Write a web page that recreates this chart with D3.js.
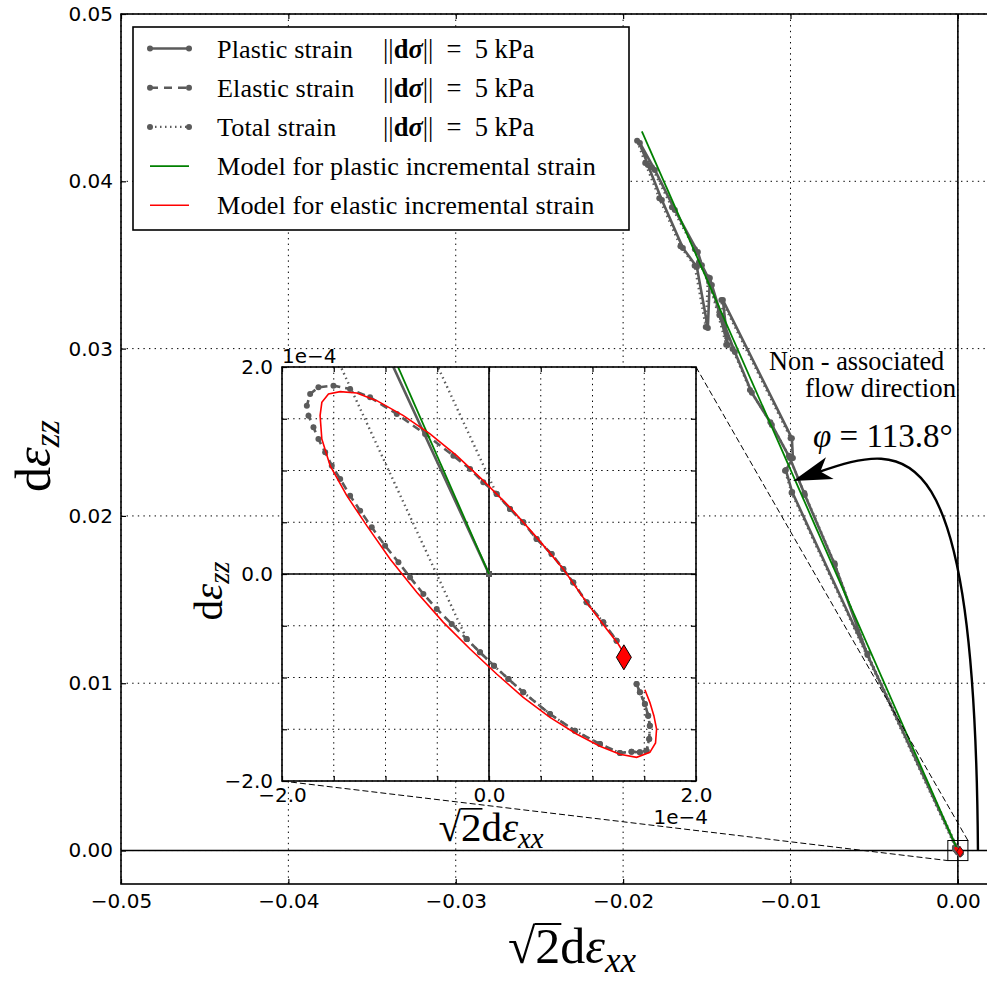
<!DOCTYPE html>
<html><head><meta charset="utf-8">
<script src="https://cdn.jsdelivr.net/npm/d3@7"></script>
<style>body{margin:0;background:#fff}svg{display:block}text{white-space:pre}</style>
</head><body>
<svg id="c" width="987" height="981"></svg>
<script>
// ---------------- data ----------------
// elastic strain response (units 1e-4)
const elasticX = [1.426,1.458,1.506,1.538,1.554,1.548,1.522,1.458,1.377,1.265,1.072,0.830,0.589,0.331,0.187,0.048,-0.087,-0.216,-0.360,-0.505,-0.634,-0.763,-0.875,-1.004,-1.133,-1.245,-1.342,-1.438,-1.519,-1.583,-1.648,-1.696,-1.744,-1.760,-1.728,-1.648,-1.503,-1.342,-1.149,-0.891,-0.618,-0.344,-0.183,-0.055,0.074,0.203,0.331,0.460,0.605,0.718,0.814,0.943,1.104,1.233];
const elasticY = [-1.063,-1.143,-1.256,-1.369,-1.465,-1.594,-1.707,-1.723,-1.717,-1.729,-1.643,-1.514,-1.353,-1.143,-1.014,-0.886,-0.757,-0.628,-0.483,-0.338,-0.193,-0.032,0.113,0.274,0.451,0.612,0.757,0.918,1.047,1.176,1.304,1.417,1.530,1.626,1.739,1.804,1.820,1.787,1.707,1.546,1.353,1.143,1.014,0.886,0.773,0.628,0.499,0.338,0.193,0.048,-0.081,-0.274,-0.467,-0.644];
// plastic strain response (units 1e-3)
const plasticX = [0,0,0,0,0,0,0,0,0,0,0,0,0,0,0,0,0,0,-9.900,-10.277,-9.858,-9.918,-14.041,-13.742,-14.818,-14.937,-15.594,-16.431,-17.686,-18.522,-19.000,-18.104,-16.909,-15.535,-15.295,-14.698,-14.101,-13.324,-12.308,-11.113,-10.037,-9.141,-7.349,-5.400,0,0,0,0,0,0,0,0,0,0];
const plasticY = [0,0,0,0,0,0,0,0,0,0,0,0,0,0,0,0,0,0,21.43,22.74,23.46,24.65,32.90,30.21,34.22,31.23,34.88,36.02,38.88,40.97,42.29,40.68,38.29,35.77,34.99,33.80,31.83,29.80,27.36,25.44,23.46,21.25,17.07,11.69,0,0,0,0,0,0,0,0,0,0];
// total strain response (units 1e-3)
const totalX = [0.1426,0.1458,0.1506,0.1538,0.1554,0.1548,0.1522,0.1458,0.1377,0.1265,0.1072,0.0830,0.0589,0.0331,0.0187,0.0048,-0.0087,-0.0216,-9.936,-10.328,-9.921,-9.994,-14.129,-13.842,-14.931,-15.062,-15.728,-16.575,-17.838,-18.680,-19.165,-18.274,-17.083,-15.711,-15.468,-14.863,-14.251,-13.458,-12.423,-11.202,-10.099,-9.175,-7.367,-5.406,0.0074,0.0203,0.0331,0.0460,0.0605,0.0718,0.0814,0.0943,0.1104,0.1233];
const totalY = [-0.1063,-0.1143,-0.1256,-0.1369,-0.1465,-0.1594,-0.1707,-0.1723,-0.1717,-0.1729,-0.1643,-0.1514,-0.1353,-0.1143,-0.1014,-0.0886,-0.0757,-0.0628,21.382,22.706,23.441,24.647,32.911,30.237,34.265,31.291,34.956,36.112,38.985,41.088,42.420,40.822,38.443,35.933,35.164,33.980,32.012,29.979,27.531,25.595,23.595,21.364,17.171,11.779,0.0773,0.0628,0.0499,0.0338,0.0193,0.0048,-0.0081,-0.0274,-0.0467,-0.0644];
// model for plastic incremental strain (units 1e-3)
const modelPlasticX = [0, -18.88];
const modelPlasticY = [0, 42.98];
// model for elastic incremental strain (units 1e-4)
const modelElasticX = [1.506,1.554,1.593,1.619,1.609,1.554,1.426,1.265,1.072,0.846,0.589,0.331,0.074,-0.183,-0.441,-0.698,-0.956,-1.181,-1.374,-1.535,-1.615,-1.632,-1.615,-1.551,-1.438,-1.278,-1.084,-0.827,-0.570,-0.312,-0.055,0.203,0.460,0.718,0.943,1.136,1.249,1.345];
const modelElasticY = [-1.118,-1.240,-1.369,-1.498,-1.633,-1.723,-1.771,-1.742,-1.665,-1.546,-1.385,-1.192,-0.966,-0.725,-0.467,-0.177,0.145,0.467,0.757,1.047,1.304,1.530,1.659,1.739,1.762,1.749,1.675,1.530,1.353,1.143,0.902,0.644,0.354,0.048,-0.274,-0.531,-0.676,-0.837];
const startPoint = [1.303, -0.805]; // units 1e-4
// ticks
const mainXTicks = [-0.05,-0.04,-0.03,-0.02,-0.01,0.00];
const mainYTicks = [0.00,0.01,0.02,0.03,0.04,0.05];
const insetTicks = [-2,-1.5,-1,-0.5,0,0.5,1,1.5,2]; // units 1e-4
const insetLabelled = [-2,0,2];
// annotation anchors (data units, main axes)
const arrowStart = [0.0012, 0.0];
const arrowC1 = [0.00102, 0.02513];
const arrowC2 = [-0.00287, 0.02454];
const arrowTip = [-0.00985, 0.02208];
const zoomBox = 0.0006;

const U3 = 1e-3, U4 = 1e-4;
const GRAY = "#5b5b5b", GREEN = "#008000", RED = "#ff0000";
const SERIF = "'Liberation Serif', 'DejaVu Serif', serif";
const SANS = "'DejaVu Sans', sans-serif";

const svg = d3.select("#c");
const defs = svg.append("defs");

// ---------------- main axes ----------------
const M = {l:121, r:988, t:14, b:884};
const x = d3.scaleLinear().domain([-0.05, 0.0018]).range([M.l, M.r]);
const y = d3.scaleLinear().domain([-0.002, 0.05]).range([M.b, M.t]);

defs.append("clipPath").attr("id","clipMain").append("rect")
  .attr("x",M.l).attr("y",M.t).attr("width",M.r-M.l).attr("height",M.b-M.t);

const gMain = svg.append("g");
gMain.selectAll(".gx").data(mainXTicks).join("line")
  .attr("x1",d=>x(d)).attr("x2",d=>x(d)).attr("y1",M.t).attr("y2",M.b)
  .attr("stroke","#000").attr("stroke-width",1).attr("stroke-dasharray","1.4,4.2");
gMain.selectAll(".gy").data(mainYTicks).join("line")
  .attr("y1",d=>y(d)).attr("y2",d=>y(d)).attr("x1",M.l).attr("x2",M.r)
  .attr("stroke","#000").attr("stroke-width",1).attr("stroke-dasharray","1.4,4.2");
gMain.append("line").attr("x1",x(0)).attr("x2",x(0)).attr("y1",M.t).attr("y2",M.b)
  .attr("stroke","#000").attr("stroke-width",1.6);
gMain.append("line").attr("y1",y(0)).attr("y2",y(0)).attr("x1",M.l).attr("x2",M.r)
  .attr("stroke","#000").attr("stroke-width",1.6);

function series(X, Y, ux, uy){ return X.map((v,i)=>[v*ux, Y[i]*uy]); }
const plastic = series(plasticX, plasticY, U3, U3);
const elastic = series(elasticX, elasticY, U4, U4);
const total = series(totalX, totalY, U3, U3);
const modelP = series(modelPlasticX, modelPlasticY, U3, U3);
const modelE = series(modelElasticX, modelElasticY, U4, U4);

function drawData(g, sx, sy, clipId, diamondScale){
  const gg = g.append("g").attr("clip-path",`url(#${clipId})`);
  const line = d3.line().x(d=>sx(d[0])).y(d=>sy(d[1]));
  const styles = [
    {d:plastic, dash:null, w:2.6},
    {d:elastic, dash:"8,5", w:2.6},
    {d:total, dash:"1.5,3.5", w:2.4}
  ];
  styles.forEach(s=>{
    gg.append("path").attr("d",line(s.d)).attr("fill","none").attr("stroke",GRAY)
      .attr("stroke-width",s.w).attr("stroke-dasharray",s.dash);
    gg.append("g").selectAll("circle").data(s.d).join("circle")
      .attr("cx",d=>sx(d[0])).attr("cy",d=>sy(d[1])).attr("r",3).attr("fill",GRAY);
  });
  gg.append("path").attr("d",line(modelP)).attr("fill","none").attr("stroke",GREEN).attr("stroke-width",1.8);
  gg.append("path").attr("d",line(modelE)).attr("fill","none").attr("stroke",RED).attr("stroke-width",1.6);
  const px = sx(startPoint[0]*U4), py = sy(startPoint[1]*U4);
  const hw = 7.5*diamondScale, hh = 12.5*diamondScale;
  gg.append("path").attr("d",`M${px},${py-hh}L${px+hw},${py}L${px},${py+hh}L${px-hw},${py}Z`)
    .attr("fill",RED).attr("stroke","#000").attr("stroke-width",diamondScale>0.6?1:0.5);
}
drawData(gMain, x, y, "clipMain", 0.45);

function fmtAxis(g, size, fam){ g.select(".domain").remove(); g.attr("font-size",size).attr("font-family",fam);
  g.selectAll(".tick line").attr("stroke","#000").attr("stroke-width",1.2); g.selectAll("text").attr("fill","#000"); }
svg.append("g").attr("transform",`translate(0,${M.b})`)
  .call(d3.axisBottom(x).tickValues(mainXTicks).tickSize(-5).tickPadding(10).tickFormat(d3.format(".2f")))
  .call(g=>fmtAxis(g,20,SANS));
svg.append("g").attr("transform",`translate(0,${M.t})`)
  .call(d3.axisTop(x).tickValues(mainXTicks).tickSize(-5).tickFormat(""))
  .call(g=>fmtAxis(g,20,SANS));
svg.append("g").attr("transform",`translate(${M.l},0)`)
  .call(d3.axisLeft(y).tickValues(mainYTicks).tickSize(-5).tickPadding(8).tickFormat(d3.format(".2f")))
  .call(g=>fmtAxis(g,20,SANS));
svg.append("rect").attr("x",M.l).attr("y",M.t).attr("width",M.r-M.l).attr("height",M.b-M.t)
  .attr("fill","none").attr("stroke","#000").attr("stroke-width",1.6);

const measureCtx = document.createElement("canvas").getContext("2d");
function mathLabel(g, size, kind){
  const t = g.append("text").attr("font-family",SERIF).attr("font-size",size).attr("fill","#000")
    .attr("text-anchor","middle");
  if(kind==="xx"){
    t.append("tspan").text("\u221A");
    t.append("tspan").text("2");
  }
  t.append("tspan").text("d");
  t.append("tspan").attr("font-style","italic").text("\u03B5");
  t.append("tspan").attr("font-style","italic").attr("font-size","70%").attr("dy","0.25em").text(kind);
  if(kind==="xx"){
    // vinculum of the square root, joined to the radical sign
    measureCtx.font = `${size}px 'Liberation Serif'`;
    const m = measureCtx.measureText("\u221A");
    const node = t.node();
    const s0 = node.getStartPositionOfChar(0), e1 = node.getEndPositionOfChar(1);
    const sw = Math.max(1.2, size*0.04);
    const yb = s0.y - m.actualBoundingBoxAscent + sw/2;
    g.append("line").attr("x1", s0.x + m.actualBoundingBoxRight - sw*0.6).attr("x2", e1.x + 1)
      .attr("y1", yb).attr("y2", yb).attr("stroke","#000").attr("stroke-width",sw);
  }
  return t;
}
mathLabel(svg.append("g").attr("transform","translate(572,963)"), 50, "xx");
mathLabel(svg.append("g").attr("transform","translate(50,456) rotate(-90)"), 50, "zz");

// ---------------- legend ----------------
const L = {x:133, y:27, w:496, h:203};
const gL = svg.append("g");
gL.append("rect").attr("x",L.x).attr("y",L.y).attr("width",L.w).attr("height",L.h)
  .attr("fill","#fff").attr("stroke","#000").attr("stroke-width",1.6);
const legendItems = [
  {label:"Plastic strain", formula:true, color:GRAY, dash:null, marker:true, w:2.6},
  {label:"Elastic strain", formula:true, color:GRAY, dash:"8,6", marker:true, w:2.6},
  {label:"Total strain", formula:true, color:GRAY, dash:"1.5,3.5", marker:true, w:2.4},
  {label:"Model for plastic incremental strain", formula:false, color:GREEN, dash:null, marker:false, w:1.6},
  {label:"Model for elastic incremental strain", formula:false, color:RED, dash:null, marker:false, w:1.6}
];
legendItems.forEach((it,i)=>{
  const cy = 48.5 + i*39.2;
  gL.append("line").attr("x1",150).attr("x2",189).attr("y1",cy).attr("y2",cy)
    .attr("stroke",it.color).attr("stroke-width",it.w).attr("stroke-dasharray",it.dash);
  if(it.marker){
    [150,189].forEach(mx=>gL.append("circle").attr("cx",mx).attr("cy",cy).attr("r",3).attr("fill",it.color));
  }
  gL.append("text").attr("x",217).attr("y",cy+9).attr("font-family",SERIF).attr("font-size",26.2)
    .attr("letter-spacing",0.1).text(it.label);
  if(it.formula){
    const t = gL.append("text").attr("x",383).attr("y",cy+9).attr("font-family",SERIF).attr("font-size",26.5);
    t.append("tspan").text("||");
    t.append("tspan").attr("font-weight","bold").text("d");
    t.append("tspan").attr("font-weight","bold").attr("font-style","italic").text("\u03C3");
    t.append("tspan").text("||\u2002=\u20025 kPa");
  }
});

// ---------------- zoom box + connectors ----------------
const I = {l:282, r:696, t:367, b:781};
svg.append("rect").attr("x",x(-zoomBox)).attr("y",y(zoomBox)).attr("width",x(zoomBox)-x(-zoomBox))
  .attr("height",y(-zoomBox)-y(zoomBox)).attr("fill","none").attr("stroke","#000").attr("stroke-width",1);
svg.append("line").attr("x1",I.r).attr("y1",I.t).attr("x2",x(zoomBox)).attr("y2",y(zoomBox))
  .attr("stroke","#000").attr("stroke-width",1).attr("stroke-dasharray","6,3");
svg.append("line").attr("x1",I.l).attr("y1",I.b).attr("x2",x(-zoomBox)).attr("y2",y(-zoomBox))
  .attr("stroke","#000").attr("stroke-width",1).attr("stroke-dasharray","6,3");

// ---------------- inset ----------------
const xi = d3.scaleLinear().domain([-2e-4, 2e-4]).range([I.l, I.r]);
const yi = d3.scaleLinear().domain([-2e-4, 2e-4]).range([I.b, I.t]);
defs.append("clipPath").attr("id","clipInset").append("rect")
  .attr("x",I.l).attr("y",I.t).attr("width",I.r-I.l).attr("height",I.b-I.t);
const gI = svg.append("g");
gI.append("rect").attr("x",I.l).attr("y",I.t).attr("width",I.r-I.l).attr("height",I.b-I.t).attr("fill","#fff");
gI.selectAll(".gix").data(insetTicks).join("line")
  .attr("x1",d=>xi(d*U4)).attr("x2",d=>xi(d*U4)).attr("y1",I.t).attr("y2",I.b)
  .attr("stroke","#000").attr("stroke-width",1).attr("stroke-dasharray","1.4,4.2");
gI.selectAll(".giy").data(insetTicks).join("line")
  .attr("y1",d=>yi(d*U4)).attr("y2",d=>yi(d*U4)).attr("x1",I.l).attr("x2",I.r)
  .attr("stroke","#000").attr("stroke-width",1).attr("stroke-dasharray","1.4,4.2");
gI.append("line").attr("x1",xi(0)).attr("x2",xi(0)).attr("y1",I.t).attr("y2",I.b).attr("stroke","#000").attr("stroke-width",1.6);
gI.append("line").attr("y1",yi(0)).attr("y2",yi(0)).attr("x1",I.l).attr("x2",I.r).attr("stroke","#000").attr("stroke-width",1.6);
drawData(gI, xi, yi, "clipInset", 1);

const insetFmt = v => insetLabelled.includes(Math.round(v/U4*10)/10) ? d3.format(".1f")(v/U4) : "";
const iTicks = insetTicks.map(v=>v*U4);
svg.append("g").attr("transform",`translate(0,${I.b})`)
  .call(d3.axisBottom(xi).tickValues(iTicks).tickSize(-5).tickPadding(7).tickFormat(insetFmt)).call(g=>fmtAxis(g,20,SANS));
svg.append("g").attr("transform",`translate(0,${I.t})`)
  .call(d3.axisTop(xi).tickValues(iTicks).tickSize(-5).tickFormat("")).call(g=>fmtAxis(g,20,SANS));
svg.append("g").attr("transform",`translate(${I.l},0)`)
  .call(d3.axisLeft(yi).tickValues(iTicks).tickSize(-5).tickPadding(9).tickFormat(insetFmt)).call(g=>fmtAxis(g,20,SANS));
svg.append("g").attr("transform",`translate(${I.r},0)`)
  .call(d3.axisRight(yi).tickValues(iTicks).tickSize(-5).tickFormat("")).call(g=>fmtAxis(g,20,SANS));
svg.append("rect").attr("x",I.l).attr("y",I.t).attr("width",I.r-I.l).attr("height",I.b-I.t)
  .attr("fill","none").attr("stroke","#000").attr("stroke-width",1.6);
svg.append("text").attr("x",I.l).attr("y",I.t-4).attr("font-family",SANS).attr("font-size",20).text("1e\u22124");
svg.append("text").attr("x",I.r+12).attr("y",I.b+43).attr("text-anchor","end").attr("font-family",SANS).attr("font-size",20).text("1e\u22124");
mathLabel(svg.append("g").attr("transform","translate(491,841)"), 41, "xx");
mathLabel(svg.append("g").attr("transform","translate(222,591) rotate(-90)"), 41, "zz");

// ---------------- annotation ----------------
svg.append("text").attr("x",769).attr("y",370).attr("font-family",SERIF).attr("font-size",26.3).text("Non - associated");
svg.append("text").attr("x",805).attr("y",397).attr("font-family",SERIF).attr("font-size",26.8).text("flow direction");
const phi = svg.append("text").attr("x",813).attr("y",447).attr("font-family",SERIF).attr("font-size",33);
phi.append("tspan").attr("font-style","italic").text("\u03C6");
phi.append("tspan").text(" = 113.8\u00B0");

const P0=[x(arrowStart[0]),y(arrowStart[1])], C1=[x(arrowC1[0]),y(arrowC1[1])],
      C2=[x(arrowC2[0]),y(arrowC2[1])], P3=[x(arrowTip[0]),y(arrowTip[1])];
const ang = Math.atan2(P3[1]-C2[1], P3[0]-C2[0]);
const bx = P3[0]-26*Math.cos(ang), by = P3[1]-26*Math.sin(ang);
const pth = d3.path(); pth.moveTo(P0[0],P0[1]); pth.bezierCurveTo(C1[0],C1[1],C2[0],C2[1],bx,by);
svg.append("path").attr("d",pth.toString()).attr("fill","none").attr("stroke","#000").attr("stroke-width",2.4);
svg.append("path").attr("d","M0,0L-39,-11.5L-29,0L-39,11.5Z")
  .attr("transform",`translate(${P3[0]},${P3[1]}) rotate(${ang*180/Math.PI})`).attr("fill","#000");
</script>
</body></html>
